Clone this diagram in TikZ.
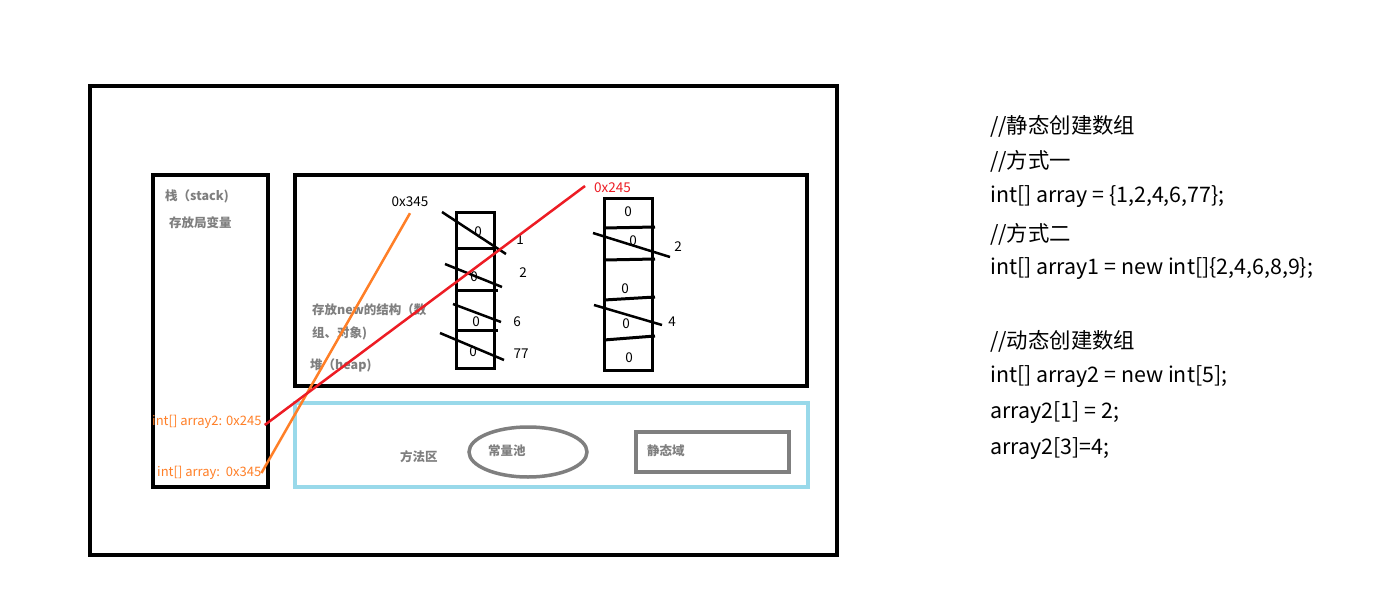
\documentclass[tikz,border=0pt]{standalone}
\usepackage{fontspec}
\setmainfont{Noto Sans CJK SC}
\usetikzlibrary{shapes.geometric}
\definecolor{porange}{HTML}{FF7F27}
\definecolor{pred}{HTML}{ED1C24}
\definecolor{pblue}{HTML}{99D9EA}
\definecolor{pgray}{HTML}{7F7F7F}
\tikzset{
  box/.style={draw=black,line width=4pt},
  cell/.style={draw=black,line width=3pt},
  strike/.style={draw=black,line width=2.5pt},
  glabel/.style={text=pgray,font=\fontsize{12.5}{14}\selectfont\bfseries,inner sep=0pt},
  olabel/.style={text=porange,font=\fontsize{13}{15}\selectfont,inner sep=0pt},
  num/.style={font=\fontsize{13.5}{15}\selectfont,inner sep=0pt},
  code/.style={font=\fontsize{21.4}{24}\selectfont,inner sep=0pt,anchor=west},
}
\begin{document}
\begin{tikzpicture}[x=1pt,y=-1pt]
\useasboundingbox[fill=white] (0,0) rectangle (1387,610);
% outer
\draw[box] (90,86) rectangle (837,555);
% stack
\draw[box] (153,175) rectangle (268,487);
\node[glabel,anchor=west] (stk) at (165,196) {栈（stack)};
\node[glabel,anchor=west] (stk2) at (169,223) {存放局变量};
\node[olabel,anchor=west] (s2) at (152,422) {int[] array2: 0x245};
\node[olabel,anchor=west] (s1) at (157,473) {int[] array:\ \ 0x345};
% heap
\draw[box] (295,175) rectangle (807,386);
\node[glabel,anchor=west] (h1) at (312,310) {存放new的结构（数};
\node[glabel,anchor=west] (h2) at (312,333) {组、对象)};
\node[glabel,anchor=west] (h3) at (310,365) {堆（heap)};
% method area
\draw[draw=pblue,line width=3.5pt] (295,403) rectangle (808,487);
\node[glabel,anchor=west] (ff) at (400,457) {方法区};
\draw[draw=pgray,line width=3.5pt] (528,452) ellipse (59 and 25);
\node[glabel,anchor=west] (cl) at (488,451) {常量池};
\draw[draw=pgray,line width=4pt] (636,432) rectangle (789,472);
\node[glabel,anchor=west] (jt) at (647,451) {静态域};
% array 1
\draw[cell] (456,212) rectangle (494,368);
\draw[cell] (456,248) -- (494,248);
\draw[cell] (456,290) -- (498,290);
\draw[cell] (456,330) -- (498,330);
\node[num] (a1z1) at (478,232) {0};
\node[num] (a1z2) at (474,277) {0};
\node[num] (a1z3) at (476,322) {0};
\node[num] (a1z4) at (473,352) {0};
\draw[strike] (442,212) -- (506,254);
\draw[strike] (445,264) -- (502,287);
\draw[strike] (453,304) -- (501,322);
\draw[strike] (440,333) -- (504,360);
\node[num] (v1) at (520,240) {1};
\node[num] (v2) at (523,273) {2};
\node[num] (v3) at (517,322) {6};
\node[num] (v4) at (521,354) {77};
\node[num] (a345) at (410,202) {0x345};
% array 2
\draw[cell] (604,198) rectangle (652,370);
\draw[cell] (604,228) -- (655,227);
\draw[cell] (604,260) -- (655,259);
\draw[cell] (604,300) -- (655,297);
\draw[cell] (604,340) -- (655,336);
\node[num] (b1) at (628,212) {0};
\node[num] (b2) at (633,241) {0};
\node[num] (b3) at (625,289) {0};
\node[num] (b4) at (626,324) {0};
\node[num] (b5) at (629,358) {0};
\draw[strike] (593,233) -- (670,257);
\draw[strike] (594,305) -- (662,325);
\node[num] (w1) at (678,247) {2};
\node[num] (w2) at (672,322) {4};
\node[num,text=pred,anchor=west] (a245) at (594,188) {0x245};
% pointers
\draw[draw=porange,line width=2.5pt] ([yshift=-6pt]a345.south) -- (s1.east);
\draw[draw=pred,line width=2.5pt] ([xshift=-9pt,yshift=2pt]a245.west) -- ([xshift=3pt,yshift=-3pt]s2.east);
% code
\node[code] (c1) at (990,126) {//静态创建数组};
\node[code] (c2) at (990,161) {//方式一};
\node[code] (c3) at (990,197) {int[] array = \{1,2,4,6,77\};};
\node[code] (c4) at (990,234) {//方式二};
\node[code] (c5) at (990,269) {int[] array1 = new int[]\{2,4,6,8,9\};};
\node[code] (c6) at (990,341) {//动态创建数组};
\node[code] (c7) at (990,377) {int[] array2 = new int[5];};
\node[code] (c8) at (990,413) {array2[1] = 2;};
\node[code] (c9) at (990,449) {array2[3]=4;};
\end{tikzpicture}
\end{document}
